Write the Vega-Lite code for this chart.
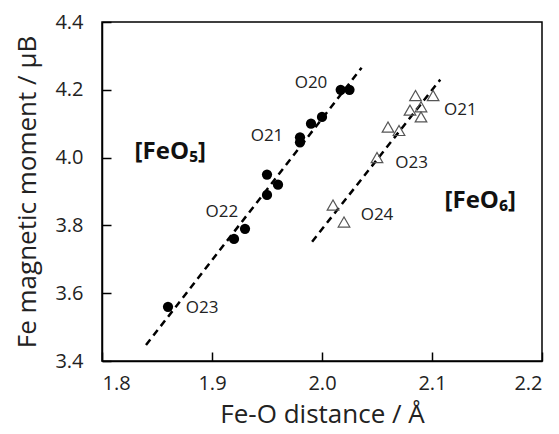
{
  "$schema": "https://vega.github.io/schema/vega-lite/v6.json",
  "width": 440,
  "height": 339,
  "autosize": "none",
  "padding": {"left": 102, "top": 22, "right": 17, "bottom": 73},
  "background": "white",
  "config": {
    "view": {"stroke": "black", "strokeWidth": 1.5},
    "font": "Open Sans",
    "axis": {
      "grid": false,
      "domainColor": "black",
      "domainWidth": 1.5,
      "tickColor": "black",
      "tickWidth": 1.5,
      "tickSize": -9,
      "labelFont": "Open Sans",
      "labelFontSize": 20,
      "labelColor": "#222",
      "titleFont": "Open Sans",
      "titleFontSize": 26,
      "titleFontWeight": "normal",
      "titleColor": "#222"
    }
  },
  "datasets": {
    "pts": [
      {"series": "FeO5", "d": 1.86, "m": 3.56},
      {"series": "FeO5", "d": 1.92, "m": 3.76},
      {"series": "FeO5", "d": 1.93, "m": 3.79},
      {"series": "FeO5", "d": 1.95, "m": 3.89},
      {"series": "FeO5", "d": 1.95, "m": 3.95},
      {"series": "FeO5", "d": 1.96, "m": 3.92},
      {"series": "FeO5", "d": 1.98, "m": 4.06},
      {"series": "FeO5", "d": 1.98, "m": 4.045},
      {"series": "FeO5", "d": 1.99, "m": 4.10},
      {"series": "FeO5", "d": 2.00, "m": 4.12},
      {"series": "FeO5", "d": 2.017, "m": 4.20},
      {"series": "FeO5", "d": 2.025, "m": 4.20},
      {"series": "FeO6", "d": 2.01, "m": 3.86},
      {"series": "FeO6", "d": 2.02, "m": 3.81},
      {"series": "FeO6", "d": 2.05, "m": 4.00},
      {"series": "FeO6", "d": 2.06, "m": 4.09},
      {"series": "FeO6", "d": 2.07, "m": 4.08},
      {"series": "FeO6", "d": 2.08, "m": 4.14},
      {"series": "FeO6", "d": 2.085, "m": 4.183},
      {"series": "FeO6", "d": 2.09, "m": 4.15},
      {"series": "FeO6", "d": 2.09, "m": 4.12},
      {"series": "FeO6", "d": 2.101, "m": 4.183}
    ],
    "fits": [
      {"series": "FeO5", "d": 1.84, "m": 3.447},
      {"series": "FeO5", "d": 2.036, "m": 4.265},
      {"series": "FeO6", "d": 1.991, "m": 3.752},
      {"series": "FeO6", "d": 2.1075, "m": 4.23}
    ],
    "labels": [
      {"t": "O20", "d": 1.99, "m": 4.22},
      {"t": "O21", "d": 1.95, "m": 4.063},
      {"t": "O22", "d": 1.909, "m": 3.841},
      {"t": "O23", "d": 1.891, "m": 3.556},
      {"t": "O21", "d": 2.1257, "m": 4.141},
      {"t": "O23", "d": 2.0815, "m": 3.984},
      {"t": "O24", "d": 2.05, "m": 3.831}
    ],
    "groups": [
      {"t": "[FeO₅]", "d": 1.8621, "m": 4.016},
      {"t": "[FeO₆]", "d": 2.1439, "m": 3.871}
    ]
  },
  "encoding": {
    "x": {
      "field": "d", "type": "quantitative",
      "scale": {"domain": [1.8, 2.2], "nice": false, "zero": false},
      "axis": {"values": [1.8, 1.9, 2.0, 2.1, 2.2], "format": ".1f", "labelPadding": 21, "title": "Fe-O distance / Å", "titlePadding": 8}
    },
    "y": {
      "field": "m", "type": "quantitative",
      "scale": {"domain": [3.4, 4.4], "nice": false, "zero": false},
      "axis": {"values": [3.4, 3.6, 3.8, 4.0, 4.2, 4.4], "format": ".1f", "labelPadding": 28, "title": "Fe magnetic moment / μB", "titlePadding": 14}
    }
  },
  "layer": [
    {
      "data": {"name": "fits"},
      "mark": {"type": "line", "color": "black", "strokeWidth": 2.5, "strokeDash": [7, 5]},
      "encoding": {"detail": {"field": "series"}}
    },
    {
      "data": {"name": "pts"},
      "transform": [{"filter": "datum.series === 'FeO5'"}],
      "mark": {"type": "point", "shape": "circle", "filled": true, "color": "black", "opacity": 1, "size": 105}
    },
    {
      "data": {"name": "pts"},
      "transform": [{"filter": "datum.series === 'FeO6'"}],
      "mark": {"type": "point", "shape": "triangle-up", "filled": false, "color": "#555", "opacity": 1, "strokeWidth": 1.2, "size": 135}
    },
    {
      "data": {"name": "labels"},
      "mark": {"type": "text", "fontSize": 17, "color": "#222", "align": "center", "baseline": "middle"},
      "encoding": {"text": {"field": "t"}}
    },
    {
      "data": {"name": "groups"},
      "mark": {"type": "text", "fontSize": 24, "fontWeight": "bold", "color": "#111", "align": "center", "baseline": "middle"},
      "encoding": {"text": {"field": "t"}}
    }
  ]
}
